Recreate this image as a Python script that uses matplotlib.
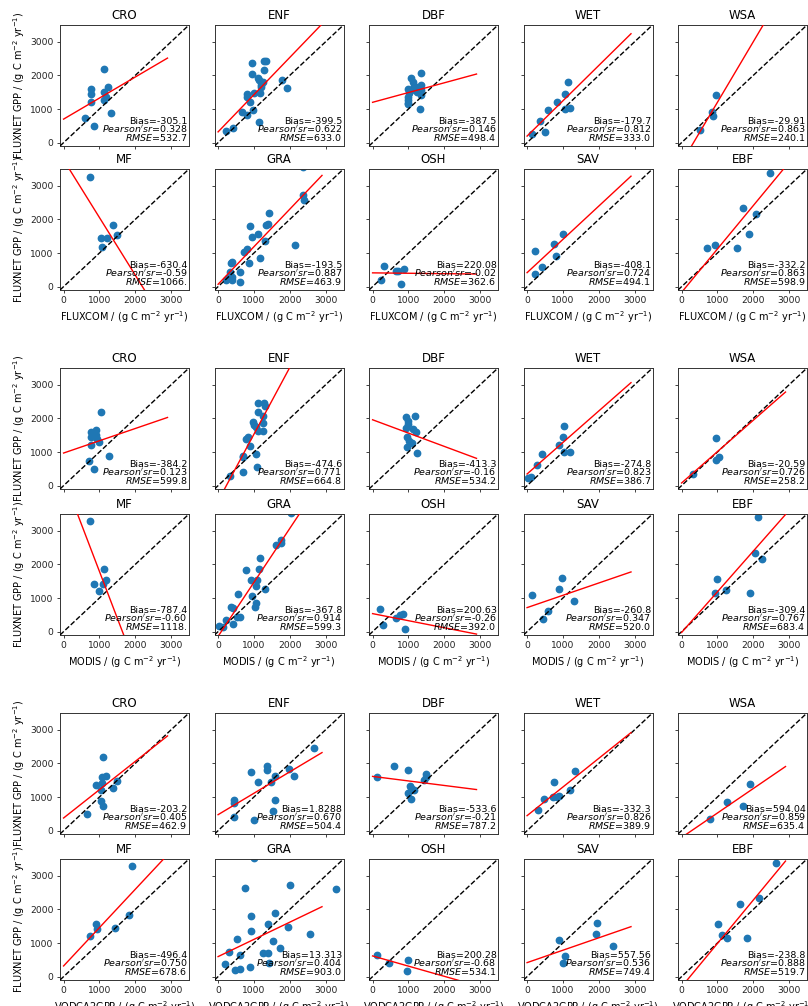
import numpy as np
import matplotlib
matplotlib.use("Agg")
import matplotlib.pyplot as plt

BIOMES = ["CRO", "ENF", "DBF", "WET", "WSA", "MF", "GRA", "OSH", "SAV", "EBF"]
PRODUCTS = ["FLUXCOM", "MODIS", "VODCA2GPP"]

# ---------------- FLUXCOM ----------------
FLUXCOM_X = {
    "CRO": [1130, 760, 760, 760, 1230, 1130, 1180, 1130, 590, 850, 1320],
    "ENF": [210, 420, 670, 810, 810, 810, 890, 960, 960, 1010, 1100, 1150, 1170, 1210, 1260, 1290, 1350, 1290, 1150, 1770, 1910, 980, 1200],
    "DBF": [980, 1080, 1130, 1150, 980, 980, 980, 1340, 1340, 1340, 1340, 1320, 1060, 1030, 1200, 1000, 1250],
    "WET": [140, 370, 490, 590, 840, 1070, 1130, 1070, 1210],
    "WSA": [510, 840, 880, 960],
    "MF": [740, 1370, 1490, 1040, 1210, 1070],
    "GRA": [2380, 2360, 2400, 1430, 1400, 1330, 900, 1120, 950, 1310, 810, 720, 2140, 1170, 870, 350, 400, 610, 320, 290, 220, 380, 380, 620],
    "OSH": [230, 330, 640, 700, 870, 780],
    "SAV": [210, 230, 420, 760, 810, 990],
    "EBF": [2460, 1720, 2070, 1890, 1550, 930, 700],
}
FLUXCOM_Y = {
    "CRO": [2200, 1600, 1450, 1200, 1650, 1500, 1350, 1270, 740, 490, 870],
    "ENF": [340, 440, 900, 830, 1440, 1370, 1220, 2360, 2030, 1470, 1930, 1860, 1490, 1710, 1810, 2440, 2440, 2150, 600, 1860, 1640, 960, 1650],
    "DBF": [1600, 1930, 1800, 1680, 1370, 1270, 1170, 2070, 1710, 1560, 1420, 1000, 1560, 1470, 1650, 1150, 1500],
    "WET": [270, 640, 320, 980, 1220, 1450, 1810, 1010, 1030],
    "WSA": [390, 900, 780, 1420],
    "MF": [3270, 1830, 1550, 1440, 1440, 1190],
    "GRA": [3550, 2740, 2590, 2200, 1860, 1830, 1800, 1580, 1470, 1360, 1110, 1040, 1250, 840, 690, 690, 740, 430, 430, 250, 200, 200, 300, 150],
    "OSH": [200, 620, 470, 480, 520, 80],
    "SAV": [1070, 380, 590, 1260, 910, 1580],
    "EBF": [3370, 2330, 2150, 1560, 1140, 1240, 1140],
}
FLUXCOM_SLOPE = [0.626, 1.107, 0.29, 1.05, 1.8, -1.714, 1.117, -0.012, 0.99, 1.29]
FLUXCOM_INTERCEPT = [700, 320, 1200, 195, -600, 3771, 70, 410, 416, -170]
FLUXCOM_BIAS = ["-305.1", "-399.5", "-387.5", "-179.7", "-29.91", "-630.4", "-193.5", "220.08", "-408.1", "-332.2"]
FLUXCOM_R = ["0.328", "0.622", "0.146", "0.812", "0.863", "-0.59", "0.887", "-0.02", "0.724", "0.863"]
FLUXCOM_RMSE = ["532.7", "633.0", "498.4", "333.0", "240.1", "1066.", "463.9", "362.6", "494.1", "598.9"]

# ---------------- MODIS ----------------
MODIS_X = {
    "CRO": [1040, 760, 760, 760, 910, 910, 930, 980, 720, 840, 1270],
    "ENF": [330, 700, 700, 700, 790, 840, 890, 1070, 980, 1000, 1050, 1120, 1120, 1290, 1310, 1260, 1260, 1260, 1090, 1120],
    "DBF": [920, 1170, 980, 980, 940, 1130, 1210, 960, 1030, 1100, 950, 1250],
    "WET": [30, 120, 280, 420, 900, 1000, 1020, 1020, 1210],
    "WSA": [330, 960, 960, 1050],
    "MF": [740, 1130, 1180, 1090, 860, 990],
    "GRA": [2030, 1750, 1750, 1610, 1170, 1150, 790, 1090, 930, 1050, 1320, 960, 560, 1050, 1030, 350, 420, 530, 610, 230, 420, 20, 140],
    "OSH": [220, 300, 640, 760, 850, 900],
    "SAV": [140, 450, 590, 900, 980, 1300],
    "EBF": [2140, 2040, 2250, 980, 1900, 930, 1240],
}
MODIS_Y = {
    "CRO": [2200, 1600, 1440, 1210, 1650, 1500, 1400, 1290, 740, 490, 870],
    "ENF": [300, 400, 840, 890, 1390, 1440, 1190, 940, 1880, 1800, 1730, 2180, 2450, 2450, 2380, 2080, 1850, 1630, 560, 1630],
    "DBF": [2050, 2060, 1930, 1830, 1710, 1680, 1610, 1460, 1320, 1260, 1140, 960],
    "WET": [230, 270, 620, 940, 1210, 1440, 1780, 1010, 1010],
    "WSA": [350, 1410, 760, 860],
    "MF": [3290, 1850, 1550, 1430, 1430, 1200],
    "GRA": [3540, 2740, 2640, 2590, 2200, 1850, 1830, 1550, 1530, 1350, 1260, 1050, 1130, 850, 720, 740, 690, 440, 440, 360, 240, 160, 140],
    "OSH": [660, 190, 420, 490, 520, 90],
    "SAV": [1080, 390, 610, 1270, 1610, 910],
    "EBF": [3400, 2340, 2170, 1580, 1150, 1150, 1250],
}
MODIS_SLOPE = [0.365, 1.986, -0.396, 0.937, 0.933, -2.79, 1.605, -0.21, 0.366, 1.21]
MODIS_INTERCEPT = [970, -457, 1960, 347, 79, 4583, -140, 536, 715, -25]
MODIS_BIAS = ["-384.2", "-474.6", "-413.3", "-274.8", "-20.59", "-787.4", "-367.8", "200.63", "-260.8", "-309.4"]
MODIS_R = ["0.123", "0.771", "-0.16", "0.823", "0.726", "-0.60", "0.914", "-0.26", "0.347", "0.767"]
MODIS_RMSE = ["599.8", "664.8", "534.2", "386.7", "258.2", "1118.", "599.3", "392.0", "520.0", "683.4"]

# ---------------- VODCA2GPP ----------------
VODCA_X = {
    "CRO": [1090, 1070, 1180, 910, 1070, 1050, 1500, 1390, 1050, 1090, 650],
    "ENF": [2680, 1370, 1370, 910, 1980, 2120, 1580, 1120, 1490, 1580, 450, 450, 1540, 450, 1000],
    "DBF": [110, 600, 980, 1480, 1480, 1430, 1040, 1060, 980, 1150, 1060],
    "WET": [300, 480, 760, 720, 840, 880, 1190, 1330],
    "WSA": [790, 1280, 1720, 1920],
    "MF": [1900, 1830, 910, 930, 740, 1440],
    "GRA": [1000, 750, 2020, 3290, 930, 1580, 1380, 1940, 910, 2560, 530, 1540, 1740, 310, 610, 1260, 1400, 1430, 190, 620, 470, 890],
    "OSH": [110, 450, 990, 960],
    "SAV": [880, 1050, 990, 1920, 1950, 2400],
    "EBF": [2630, 2160, 1640, 1020, 1140, 1270, 1830],
}
VODCA_Y = {
    "CRO": [2190, 1590, 1640, 1370, 1420, 1200, 1490, 1270, 870, 720, 500],
    "ENF": [2460, 1930, 1810, 1740, 1830, 1630, 1640, 1460, 1440, 920, 920, 820, 570, 400, 310],
    "DBF": [1610, 1930, 1810, 1690, 1610, 1520, 1340, 1270, 1120, 1220, 950],
    "WET": [600, 940, 1440, 990, 990, 1020, 1200, 1780],
    "WSA": [350, 860, 740, 1390],
    "MF": [3280, 1840, 1560, 1430, 1210, 1440],
    "GRA": [3520, 2630, 2730, 2600, 1810, 1880, 1580, 1480, 1350, 1260, 1110, 1060, 840, 740, 650, 700, 700, 420, 370, 240, 200, 300],
    "OSH": [640, 420, 500, 180],
    "SAV": [1080, 600, 400, 1270, 1600, 910],
    "EBF": [3380, 2340, 2160, 1580, 1250, 1140, 1140],
}
VODCA_SLOPE = [0.842, 0.637, -0.135, 0.852, 0.728, 1.14, 0.512, -0.303, 0.369, 1.29]
VODCA_INTERCEPT = [376, 475, 1614, 446, -204, 318, 596, 616, 417, -303]
VODCA_BIAS = ["-203.2", "1.8288", "-533.6", "-332.3", "594.04", "-496.4", "13.313", "200.28", "557.56", "-238.8"]
VODCA_R = ["0.405", "0.670", "-0.21", "0.826", "0.859", "0.750", "0.404", "-0.68", "0.536", "0.888"]
VODCA_RMSE = ["462.9", "504.4", "787.2", "389.9", "635.4", "678.6", "903.0", "534.1", "749.4", "519.7"]

TICKS = [0, 1000, 2000, 3000]
FIT_X = np.arange(0, 3000, 100)
LIM = (-100, 3500)

datasets = [
    (FLUXCOM_X, FLUXCOM_Y, FLUXCOM_SLOPE, FLUXCOM_INTERCEPT, FLUXCOM_BIAS, FLUXCOM_R, FLUXCOM_RMSE),
    (MODIS_X, MODIS_Y, MODIS_SLOPE, MODIS_INTERCEPT, MODIS_BIAS, MODIS_R, MODIS_RMSE),
    (VODCA_X, VODCA_Y, VODCA_SLOPE, VODCA_INTERCEPT, VODCA_BIAS, VODCA_R, VODCA_RMSE),
]

W_PX, H_PX = 808, 1006
fig = plt.figure(figsize=(W_PX / 100, H_PX / 100), dpi=100)

col_left = [60, 214.5, 369, 523.5, 678]
row_top = [25, 169, 368, 514, 713, 859]
ax_w, ax_h = 129, 121

FS_TICK = 6.6
FS_TITLE = 8.5
FS_LABEL = 7.0
FS_ANN = 6.8
unit = r"(g C m$^{-2}$ yr$^{-1}$)"

for p, (XD, YD, SL, IC, BI, RR, RM) in enumerate(datasets):
    for i, b in enumerate(BIOMES):
        r, c = divmod(i, 5)
        top = row_top[2 * p + r]
        ax = fig.add_axes([col_left[c] / W_PX, 1 - (top + ax_h) / H_PX,
                           ax_w / W_PX, ax_h / H_PX])
        ax.scatter(XD[b], YD[b], s=21, color="#1f77b4", zorder=2)
        ax.plot(LIM, LIM, "k--", lw=1.0, zorder=3)
        ax.plot(FIT_X, SL[i] * FIT_X + IC[i], color="red", lw=1.0, zorder=4)
        ax.set_xlim(LIM)
        ax.set_ylim(LIM)
        ax.set_xticks(TICKS)
        ax.set_yticks(TICKS)
        ax.tick_params(labelsize=FS_TICK, length=2.5, width=0.6, pad=2,
                       colors="#222222", labelcolor="#222222")
        for sp in ax.spines.values():
            sp.set_linewidth(0.7)
            sp.set_color("#333333")
        ax.set_title(b, fontsize=FS_TITLE, pad=4)
        if c == 0:
            ax.set_ylabel("FLUXNET GPP / " + unit, fontsize=FS_LABEL, labelpad=2.0)
        else:
            ax.set_yticklabels([])
        if r == 1:
            ax.set_xlabel(PRODUCTS[p] + " / " + unit, fontsize=FS_LABEL, labelpad=3)
        else:
            ax.set_xticklabels([])
        ax.text(0.99, 0.185, "Bias=" + BI[i], transform=ax.transAxes,
                ha="right", va="baseline", fontsize=FS_ANN, zorder=5)
        ax.text(0.99, 0.115, r"$Pearson's r$=" + RR[i], transform=ax.transAxes,
                ha="right", va="baseline", fontsize=FS_ANN, zorder=5)
        ax.text(0.99, 0.045, r"$RMSE$=" + RM[i], transform=ax.transAxes,
                ha="right", va="baseline", fontsize=FS_ANN, zorder=5)

fig.savefig("out.png", dpi=100)
